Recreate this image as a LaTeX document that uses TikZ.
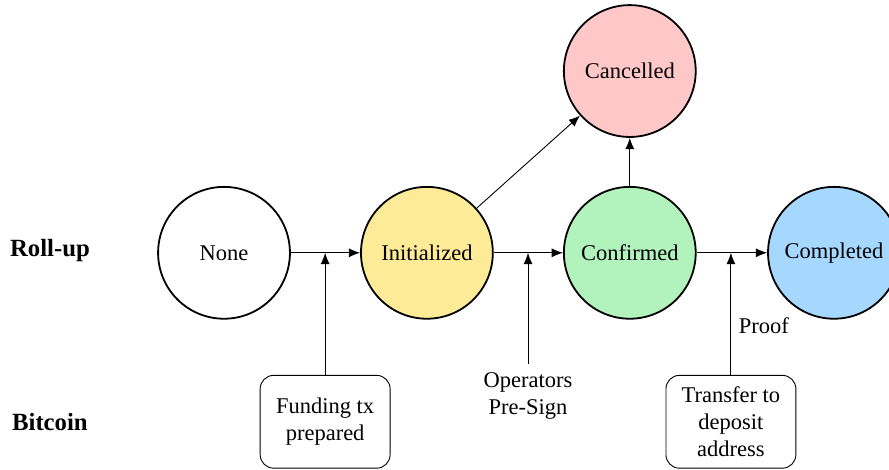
\documentclass[tikz,border=0pt]{standalone}
\usepackage{fontspec}
\setmainfont{Liberation Serif}
\usetikzlibrary{arrows.meta,positioning,calc}

\definecolor{initcol}{RGB}{253,235,152}
\definecolor{cancelcol}{RGB}{255,200,200}
\definecolor{confirmcol}{RGB}{178,242,188}
\definecolor{completecol}{RGB}{166,216,255}

\tikzset{
  state/.style={circle,draw,thick,minimum size=2.06cm,inner sep=0pt},
  txbox/.style={draw,rounded corners=6pt,minimum width=2.03cm,minimum height=1.45cm,align=center,inner sep=2pt},
  layer/.style={font=\fontsize{11}{13}\selectfont\bfseries},
  >={Latex[length=5pt,width=4pt]}
}

\begin{document}
\begin{tikzpicture}
\useasboundingbox (0,0) rectangle (13.89,7.34);
\node[layer] (rollup) at (0.78,3.42) {Roll-up};
\node[layer] (btc) at (0.78,0.75) {Bitcoin};

\node[state] (none) at (3.5,3.39) {None};
\node[state,fill=initcol] (init) at (6.67,3.39) {Initialized};
\node[state,fill=confirmcol] (conf) at (9.84,3.39) {Confirmed};
\node[state,fill=completecol] (compl) at (13.03,3.39) {Completed};
\node[state,fill=cancelcol] (cancel) at (9.84,6.23) {Cancelled};

\node[txbox] (fund) at (5.08,0.75) {Funding tx\\prepared};
\node[align=center] (presign) at (8.25,1.16) {Operators\\Pre-Sign};
\node[txbox] (transfer) at (11.42,0.75) {Transfer to\\deposit\\address};

\draw[->] (none) -- (init);
\draw[->] (init) -- (conf);
\draw[->] (conf) -- (compl);
\draw[->] (init) -- (cancel);
\draw[->] (conf) -- (cancel);

\draw[->] (fund) -- (fund |- none);
\draw[->] (presign) -- (presign |- init);
\draw[->] (transfer) -- (transfer |- conf) node[pos=0.4,right] {Proof};
\end{tikzpicture}
\end{document}
